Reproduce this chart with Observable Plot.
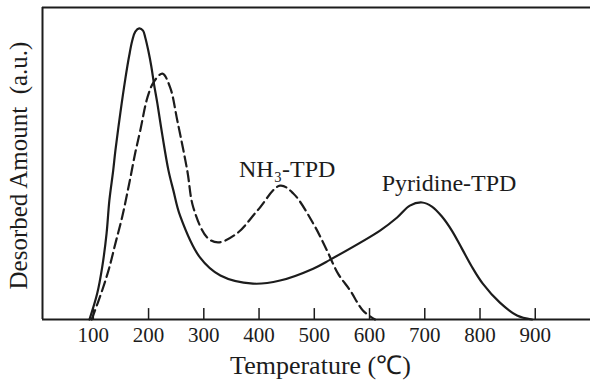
<!DOCTYPE html>
<html><head><meta charset="utf-8">
<script src="https://cdn.jsdelivr.net/npm/d3@7"></script>
<script src="https://cdn.jsdelivr.net/npm/@observablehq/plot@0.6"></script>
<style>body{margin:0;background:#fff}</style>
</head><body><div id="chart"></div>
<script>
// Pyridine-TPD (solid) : temperature (°C) and desorbed amount (a.u., 0-100)
const pyridineT = [93, 107, 116, 124, 129, 136, 140, 149, 158, 165, 170.5, 176, 183, 190, 194, 199.5, 205, 210, 216, 225, 236, 245, 257, 293, 330, 389, 438, 498, 529, 619, 650, 673, 695, 713, 731, 749, 767, 785, 805, 836, 867, 894];
const pyridineV = [0, 8.3, 16.7, 27.6, 38.1, 47.8, 54.2, 66.3, 77.2, 84.6, 89.4, 92.3, 93.3, 92.6, 90.4, 86.2, 81.1, 75.3, 69.2, 59, 47.8, 41.3, 33.3, 19.9, 14.1, 11.5, 12.5, 16.3, 19.2, 28.5, 32.7, 36.5, 37.5, 36.2, 33, 28.5, 22.8, 17, 11.5, 5.4, 1.3, 0];
// NH3-TPD (dashed)
const nh3T = [97, 116, 129, 140, 152, 165, 176, 185, 198, 209, 225, 239, 252, 270, 281, 306, 326, 360, 397, 438, 462, 498, 523, 543, 565, 588, 610];
const nh3V = [0, 9.3, 16.7, 24.4, 32.7, 43.6, 53.5, 60.6, 71.2, 76, 78.8, 74.4, 63.8, 47.8, 35.9, 26.3, 24.7, 27.6, 34.9, 42.9, 40.4, 30.8, 22.1, 14.7, 9.3, 2.9, 0];
const xTicks = [100, 200, 300, 400, 500, 600, 700, 800, 900];
const curveLabels = ["NH₃-TPD", "Pyridine-TPD"];
const labelT = [451, 744];
const labelV = [48, 43.6];

const ink = "#1c1c1c";
const pyr = pyridineT.map((t, i) => ({t, v: pyridineV[i]}));
const nh3 = nh3T.map((t, i) => ({t, v: nh3V[i]}));
const labels = curveLabels.map((s, i) => ({s, t: labelT[i], v: labelV[i]}));

const chart = Plot.plot({
  width: 590,
  height: 389,
  marginLeft: 42,
  marginRight: 0,
  marginTop: 7,
  marginBottom: 70,
  style: {background: "white", fontFamily: "'Liberation Serif', serif", color: ink},
  x: {domain: [8, 1000], axis: null},
  y: {domain: [0, 100], axis: null},
  marks: [
    Plot.ruleY([0, 100], {stroke: ink, strokeWidth: 2}),
    Plot.ruleX([8], {stroke: ink, strokeWidth: 2}),
    Plot.ruleX(xTicks, {x: d => d, y1: 0, y2: 3.5, stroke: ink, strokeWidth: 1.5}),
    Plot.axisX({ticks: xTicks, tickSize: 0, tickPadding: 8, fontSize: 21, fill: ink, label: null, tickFormat: d => String(d)}),
    Plot.line(pyr, {x: "t", y: "v", stroke: ink, strokeWidth: 2.2, curve: "catmull-rom"}),
    Plot.line(nh3, {x: "t", y: "v", stroke: ink, strokeWidth: 2.2, strokeDasharray: "10,5", curve: "catmull-rom"}),
    Plot.text(labels, {x: "t", y: "v", text: "s", fontSize: 24, fill: ink}),
    Plot.text(["Temperature (℃)"], {frameAnchor: "bottom", dx: 4, dy: 54, fontSize: 26, fill: ink}),
    Plot.text(["Desorbed Amount\u00a0 (a.u.)"], {frameAnchor: "left", textAnchor: "middle", rotate: -90, dx: -24, dy: 2, fontSize: 25, fill: ink})
  ]
});
document.getElementById("chart").appendChild(chart);
</script>
</body></html>
